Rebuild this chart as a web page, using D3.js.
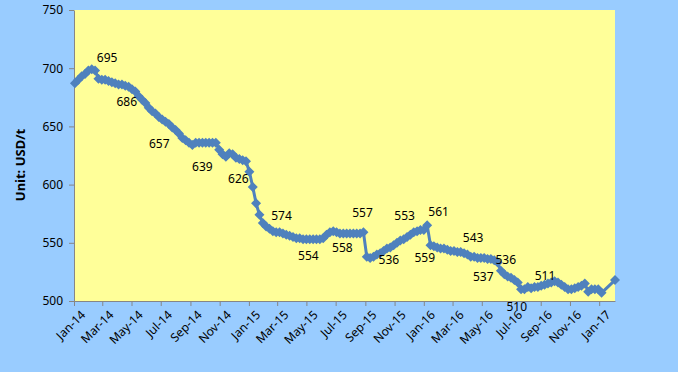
<!DOCTYPE html>
<html>
<head>
<meta charset="utf-8">
<script src="https://cdn.jsdelivr.net/npm/d3@7"></script>
<style>
  body { margin: 0; background: #99ccff; }
  svg text { font-family: "Noto Sans", "Open Sans", sans-serif; }
</style>
</head>
<body>
<div id="chart"></div>
<script>
// weekly price quotes (USD/t), one per Friday starting 3 Jan 2014
// null = no quote that week
var firstFriday = new Date(2014, 0, 3);

var prices2014 = [687, 690, 693, 695, 698, 699, 698, 691, 690, 690,
    689, 688, 687, 686, 686, 685, 684, 682, 680, 676,
    673, 670, 666, 663, 661, 658, 656, 654, 652, 649,
    647, 644, 640, 638, 636, 634, 636, 636, 636, 636,
    636, 636, 636, 630, 626, 624, 627, 626, 623, 622,
    621, 620];

var prices2015 = [611, 598, 584, 574, 567, 564, 562, 560, 559, 559,
    558, 557, 556, 555, 554, 554, 553, 553, 553, 553,
    553, 553, 554, 557, 559, 560, 559, 558, 558, 558,
    558, 558, 558, 558, 559, 538, 537, 538, 540, 541,
    543, 545, 546, 548, 550, 552, 553, 555, 557, 559,
    560, 561];

var prices2016 = [561, 565, 548, 547, 546, 545, 545, 544, 543, 543,
    542, 542, 541, 540, 538, 538, 537, 537, 537, 536,
    536, 535, 533, 526, 523, 521, 520, 518, 516, 510,
    510, 512, 511, 512, 512, 513, 514, 515, 516, 517,
    516, 514, 512, 510, 510, 511, 512, 513, 515, 508,
    510, 510, 510];

var prices2017 = [507, null, null, null, 518];

var yTicks = [500, 550, 600, 650, 700, 750];

var labelTexts = ["695", "686", "657", "639", "626", "574", "554", "558", "557",
    "536", "553", "559", "561", "543", "537", "536", "510", "511"];

var width = 678,
    height = 372;

var plot = { left: 74, top: 10, right: 615, bottom: 301 };

var allPrices = prices2014.concat(prices2015, prices2016, prices2017);
var data = [];
allPrices.forEach(function(v, i) {
    if (v !== null) {
        data.push({ date: d3.timeDay.offset(firstFriday, 7 * i), value: v });
    }
});

var svg = d3.select("#chart").append("svg")
    .attr("width", width)
    .attr("height", height);

svg.append("rect")
    .attr("width", width)
    .attr("height", height)
    .attr("fill", "#99ccff");

var x = d3.scaleTime()
    .domain([new Date(2014, 0, 1), new Date(2017, 1, 3)])
    .range([plot.left, plot.right]);

var y = d3.scaleLinear()
    .domain([500, 750])
    .range([plot.bottom, plot.top]);

svg.append("rect")
    .attr("x", plot.left)
    .attr("y", plot.top)
    .attr("width", plot.right - plot.left)
    .attr("height", plot.bottom - plot.top)
    .attr("fill", "#ffff99");

// axes
var yAxis = svg.append("g")
    .attr("transform", "translate(" + plot.left + ",0)")
    .call(d3.axisLeft(y).tickValues(yTicks).tickSize(5).tickSizeOuter(0).tickPadding(6));

var xAxis = svg.append("g")
    .attr("transform", "translate(0," + plot.bottom + ")")
    .call(d3.axisBottom(x)
        .ticks(d3.timeMonth.every(2))
        .tickFormat(d3.timeFormat("%b-%y"))
        .tickSize(5)
        .tickSizeOuter(0));

[yAxis, xAxis].forEach(function(g) {
    g.select(".domain").attr("stroke", "#868686");
    g.selectAll(".tick line").attr("stroke", "#868686");
    g.selectAll(".tick text")
        .attr("fill", "#000")
        .style("font-size", "12px");
});

xAxis.selectAll(".tick text")
    .attr("text-anchor", "end")
    .attr("dy", "0.35em")
    .attr("transform", "translate(3,6) rotate(-45)");

svg.append("text")
    .attr("transform", "translate(20,165) rotate(-90)")
    .attr("text-anchor", "middle")
    .attr("dy", "0.35em")
    .style("font-size", "13px")
    .style("font-weight", "bold")
    .text("Unit: USD/t");

// price line with diamond markers
var line = d3.line()
    .x(function(d) { return x(d.date); })
    .y(function(d) { return y(d.value); });

svg.append("path")
    .datum(data)
    .attr("fill", "none")
    .attr("stroke", "#4f81bd")
    .attr("stroke-width", 3)
    .attr("stroke-linejoin", "round")
    .attr("d", line);

var r = 5;
svg.append("g")
    .selectAll("path")
    .data(data)
    .enter().append("path")
    .attr("transform", function(d) {
        return "translate(" + x(d.date) + "," + y(d.value) + ")";
    })
    .attr("d", "M0," + (-r) + "L" + r + ",0L0," + r + "L" + (-r) + ",0Z")
    .attr("fill", "#4f81bd");

// where each data label sits (date, price level)
var labelSpots = [
    ["2014-03-11", 709], ["2014-04-21", 671], ["2014-06-28", 635], ["2014-09-26", 615],
    ["2014-12-10", 605], ["2015-03-10", 573], ["2015-05-05", 539], ["2015-07-15", 546],
    ["2015-08-26", 576], ["2015-10-20", 535.5], ["2015-11-22", 573], ["2016-01-03", 537],
    ["2016-02-01", 577], ["2016-04-13", 554], ["2016-05-04", 520.6], ["2016-06-20", 535.5],
    ["2016-07-13", 495.3], ["2016-09-10", 522]
];
var parse = d3.timeParse("%Y-%m-%d");

svg.append("g")
    .selectAll("text")
    .data(labelTexts)
    .enter().append("text")
    .attr("x", function(d, i) { return x(parse(labelSpots[i][0])); })
    .attr("y", function(d, i) { return y(labelSpots[i][1]); })
    .attr("text-anchor", "middle")
    .attr("dy", "0.35em")
    .attr("fill", "#000")
    .style("font-size", "12px")
    .text(function(d) { return d; });
</script>
</body>
</html>
